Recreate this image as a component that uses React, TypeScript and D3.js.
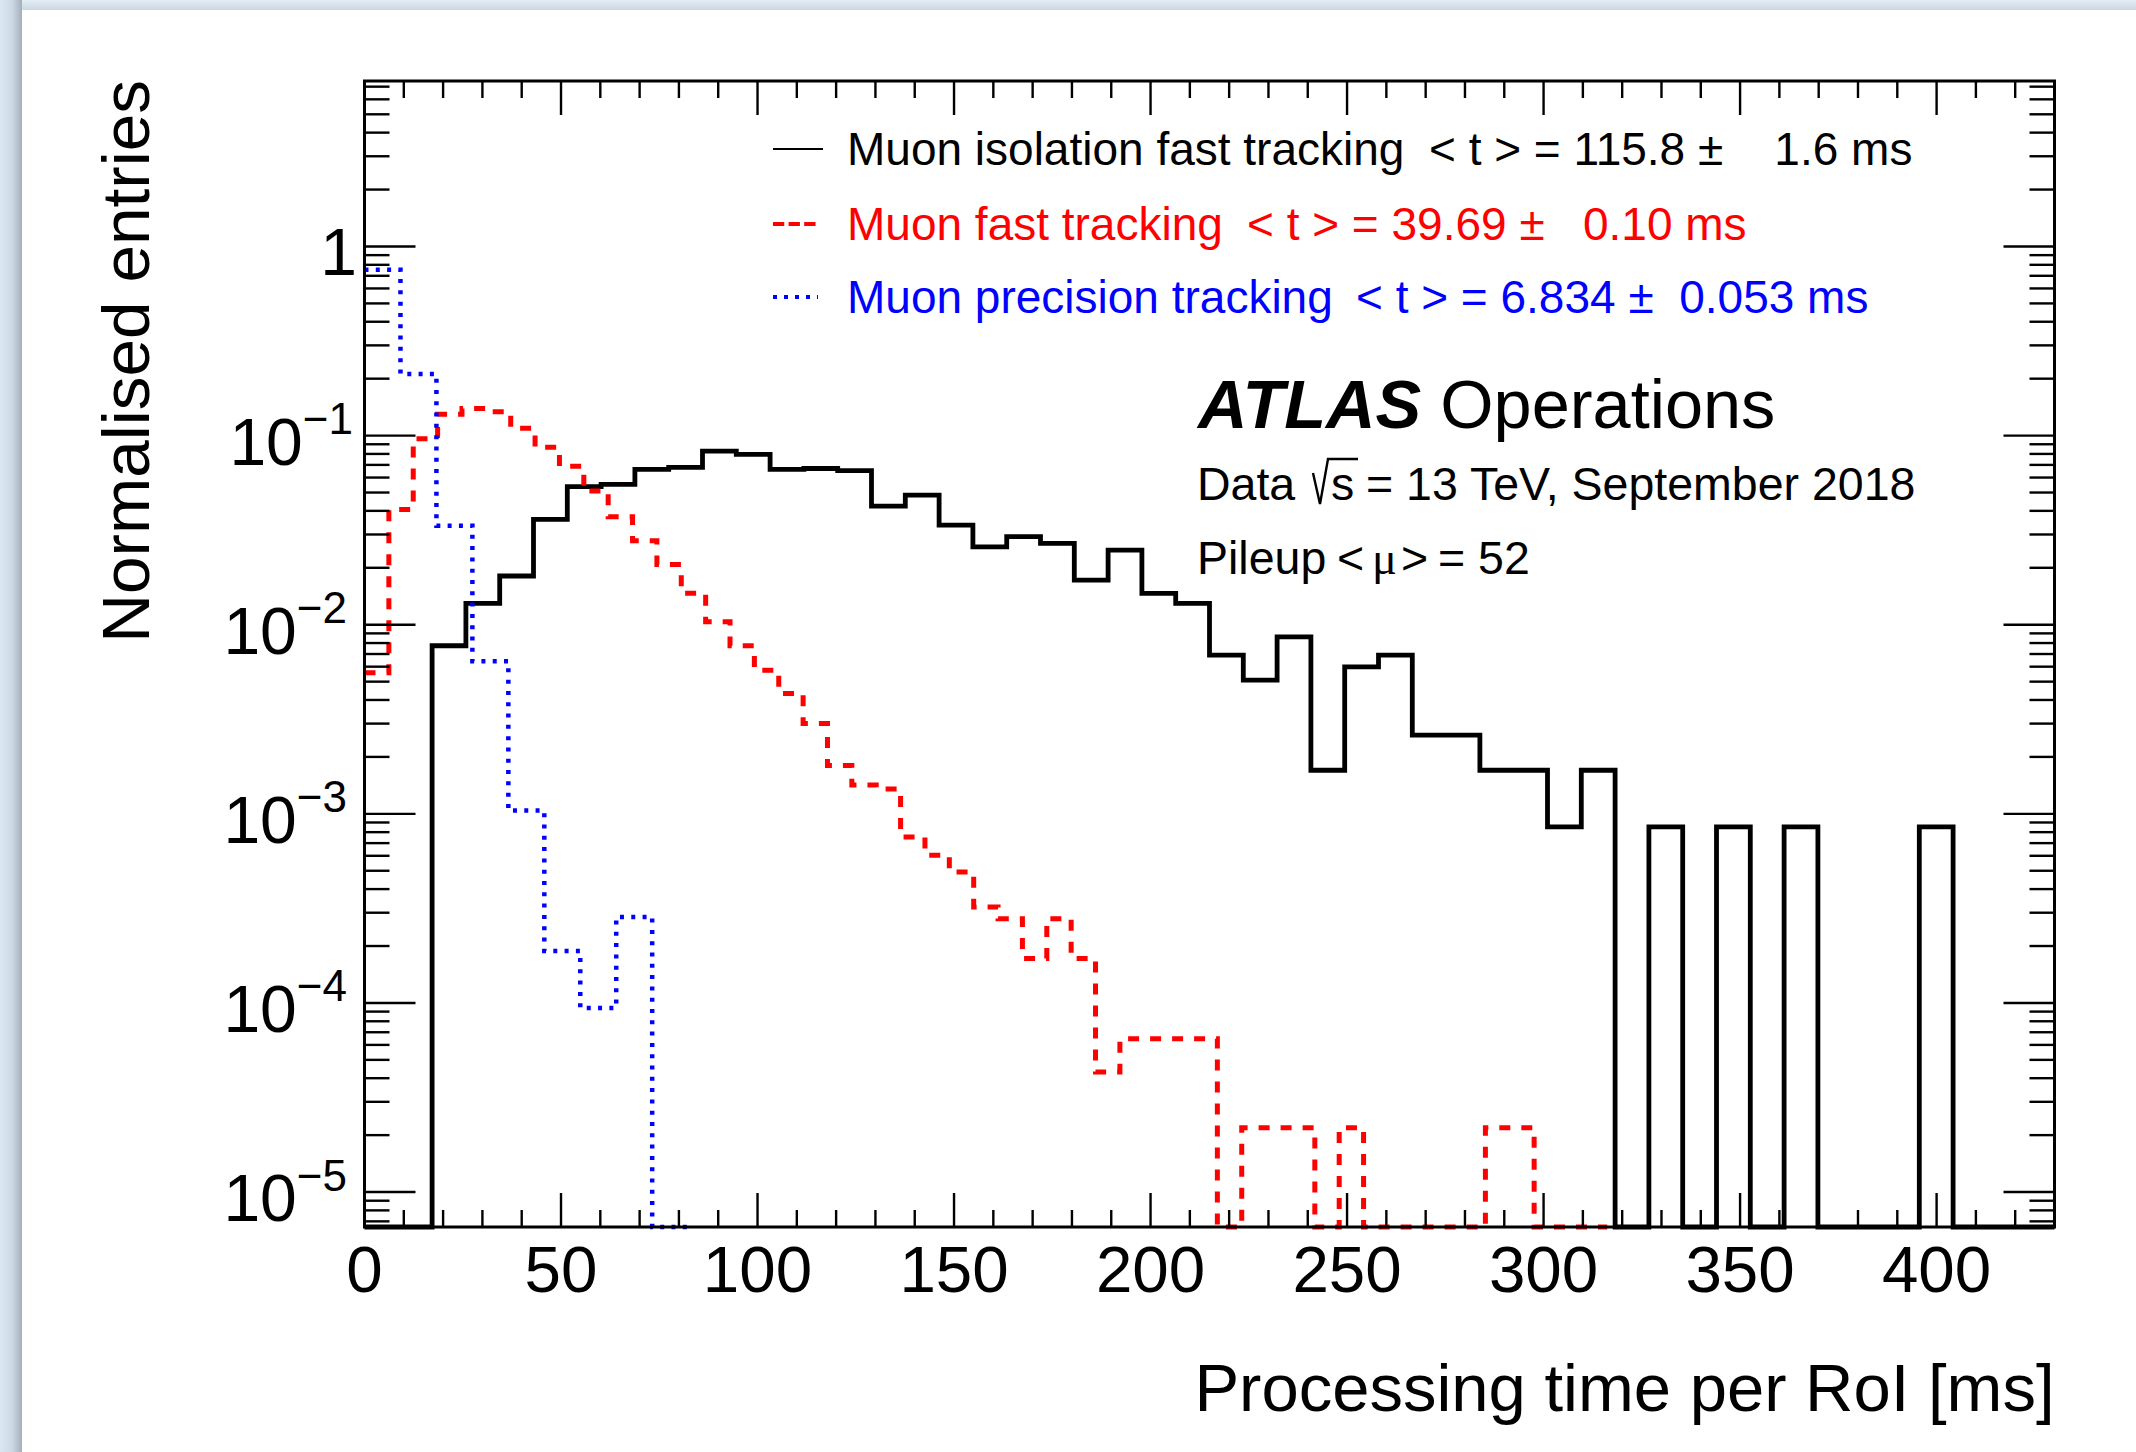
import React from "react";
import * as d3 from "d3";

// ---------------- data ----------------
// Muon isolation fast tracking: 50 bins of 8.6 ms over [0, 430]
const isoBinWidth = 8.6;
const isoValues = [
  0, 0, 7.74e-3, 1.297e-2, 1.81e-2, 3.61e-2, 5.37e-2, 5.52e-2, 6.63e-2, 6.79e-2,
  8.28e-2, 7.96e-2, 6.63e-2, 6.7e-2, 6.53e-2, 4.24e-2, 4.85e-2, 3.36e-2, 2.58e-2, 2.92e-2,
  2.69e-2, 1.72e-2, 2.48e-2, 1.465e-2, 1.297e-2, 6.9e-3, 5.09e-3, 8.63e-3, 1.7e-3, 5.99e-3,
  6.9e-3, 2.61e-3, 2.61e-3, 1.7e-3, 1.7e-3, 8.53e-4, 1.7e-3, 0, 8.53e-4, 0,
  8.53e-4, 0, 8.53e-4, 0, 0, 0, 8.53e-4, 0, 0, 0,
];
// Muon fast tracking: 51 bins of 6.2 ms
const fastBinWidth = 6.2;
const fastValues = [
  5.57e-3, 0.0407, 0.0962, 0.1295, 0.1393, 0.1337, 0.1092, 0.0867, 0.0688, 0.0509,
  0.0372, 0.0278, 0.0208, 0.01465, 0.01036, 7.74e-3, 5.75e-3, 4.33e-3, 3.0e-3, 1.8e-3,
  1.42e-3, 1.355e-3, 7.55e-4, 6.04e-4, 4.93e-4, 3.22e-4, 2.79e-4, 1.72e-4, 2.79e-4, 1.72e-4,
  4.32e-5, 6.46e-5, 6.46e-5, 6.46e-5, 6.46e-5, 0, 2.19e-5, 2.19e-5, 2.19e-5, 0,
  2.19e-5, 0, 0, 0, 0, 0, 2.19e-5, 2.19e-5, 0, 0, 0,
];
// Muon precision tracking: 9 bins of 9.15 ms
const precBinWidth = 9.15;
const precValues = [0.753, 0.212, 0.0334, 6.4e-3, 1.04e-3, 1.88e-4, 9.4e-5, 2.85e-4, 0];

const xTickLabels = [0, 50, 100, 150, 200, 250, 300, 350, 400];
const yDecadeExponents = [-5, -4, -3, -2, -1, 0];
const xDomain = [0, 430];
const yDomain = [6.535e-6, 7.5];

const legendLabels = ["Muon isolation fast tracking", "Muon fast tracking", "Muon precision tracking"];
const legendStats = ["< t > = 115.8 \u00b1    1.6 ms", "< t > = 39.69 \u00b1   0.10 ms", "< t > = 6.834 \u00b1  0.053 ms"];

// ---------------- layout ----------------
const W = 2136;
const H = 1452;
const FONT = "'Liberation Sans', Arial, Helvetica, sans-serif";
const FRAME = { left: 364.5, right: 2054.5, top: 81, bottom: 1227 };

export default function App() {
  const x = d3.scaleLinear().domain(xDomain).range([FRAME.left, FRAME.right]);
  const y = d3.scaleLog().domain(yDomain).range([FRAME.bottom, FRAME.top]);

  const histPath = (values: number[], bw: number) => {
    const pts: [number, number][] = [];
    values.forEach((v, i) => {
      const yy = v > 0 ? y(v) : FRAME.bottom;
      pts.push([x(i * bw), yy], [x((i + 1) * bw), yy]);
    });
    return d3.line()(pts) || "";
  };

  const xMinor = d3.range(0, 431, 10);
  const yMinor: number[] = [];
  for (let e = -6; e <= 0; e++) {
    for (let m = 1; m <= 9; m++) {
      const v = m * Math.pow(10, e);
      if (v >= yDomain[0] && v <= yDomain[1]) yMinor.push(v);
    }
  }

  const tickW = 2.4;
  const xMaj = 34, xMin = 17, yMaj = 51, yMin = 25;

  const legendSym = [
    { color: "#000", width: 2, dash: undefined as string | undefined },
    { color: "#ff0000", width: 3.8, dash: "11.3 4.3" },
    { color: "#0000ff", width: 3.8, dash: "4 7" },
  ];
  const legendColors = ["#000", "#ff0000", "#0000ff"];
  const legendBase = [165, 240, 313];
  const statX = [1429, 1247, 1356];
  const LFS = 46;

  return (
    <svg
      width={W}
      height={H}
      viewBox={`0 0 ${W} ${H}`}
      style={{ position: "absolute", left: 0, top: 0, display: "block" }}
      fontFamily={FONT}
    >
      <defs>
        <linearGradient id="lshadow" x1="0" y1="0" x2="1" y2="0">
          <stop offset="0" stopColor="#dbe7f1" />
          <stop offset="0.55" stopColor="#cdd9e4" />
          <stop offset="1" stopColor="#a3afbb" />
        </linearGradient>
        <linearGradient id="tshadow" x1="0" y1="0" x2="0" y2="1">
          <stop offset="0" stopColor="#e3edf5" />
          <stop offset="1" stopColor="#cbd7e2" />
        </linearGradient>
      </defs>
      <rect x={0} y={0} width={W} height={H} fill="#dde8f1" />
      <rect x={0} y={0} width={W} height={10} fill="url(#tshadow)" />
      <rect x={0} y={0} width={22} height={H} fill="url(#lshadow)" />
      <rect x={22} y={10} width={W - 22} height={H - 10} fill="#ffffff" />

      {/* histograms */}
      <path d={histPath(isoValues, isoBinWidth)} fill="none" stroke="#000" strokeWidth={4.8} />
      <path d={histPath(fastValues, fastBinWidth)} fill="none" stroke="#ff0000" strokeWidth={5} strokeDasharray="11 11" />
      <path d={histPath(precValues, precBinWidth)} fill="none" stroke="#0000ff" strokeWidth={4.5} strokeDasharray="4 7.3" />

      {/* frame */}
      <rect
        x={FRAME.left}
        y={FRAME.top}
        width={FRAME.right - FRAME.left}
        height={FRAME.bottom - FRAME.top}
        fill="none"
        stroke="#000"
        strokeWidth={3}
      />

      {/* x ticks bottom & top */}
      {xMinor.map((t) => {
        const len = t % 50 === 0 ? xMaj : xMin;
        const xx = x(t);
        return (
          <g key={"xt" + t}>
            <line x1={xx} x2={xx} y1={FRAME.bottom} y2={FRAME.bottom - len} stroke="#000" strokeWidth={tickW} />
            <line x1={xx} x2={xx} y1={FRAME.top} y2={FRAME.top + len} stroke="#000" strokeWidth={tickW} />
          </g>
        );
      })}
      {/* y ticks left & right */}
      {yMinor.map((v, i) => {
        const isMajor = Math.abs(Math.log10(v) - Math.round(Math.log10(v))) < 1e-9;
        const len = isMajor ? yMaj : yMin;
        const yy = y(v);
        return (
          <g key={"yt" + i}>
            <line x1={FRAME.left} x2={FRAME.left + len} y1={yy} y2={yy} stroke="#000" strokeWidth={tickW} />
            <line x1={FRAME.right} x2={FRAME.right - len} y1={yy} y2={yy} stroke="#000" strokeWidth={tickW} />
          </g>
        );
      })}

      {/* x tick labels */}
      {xTickLabels.map((t) => (
        <text key={"xl" + t} x={x(t)} y={1292} textAnchor="middle" fontSize={65.5} fill="#000">
          {t}
        </text>
      ))}
      {/* y tick labels */}
      {yDecadeExponents.map((k) => {
        const yy = y(Math.pow(10, k));
        if (k === 0) {
          return (
            <text key="yl0" x={357} y={yy + 28.5} textAnchor="end" fontSize={66} fill="#000">
              1
            </text>
          );
        }
        const sup = String(-k);
        const ax = sup === "1" ? 353 : 347;
        return (
          <text key={"yl" + k} x={ax} y={yy + 29} textAnchor="end" fontSize={66} fill="#000">
            10
            <tspan fontSize={44} dy={-30.5}>{"\u2212" + sup}</tspan>
          </text>
        );
      })}

      {/* axis titles */}
      <text x={FRAME.right} y={1411} textAnchor="end" fontSize={67} fill="#000">
        Processing time per RoI [ms]
      </text>
      <text transform={`translate(149, ${FRAME.top - 1}) rotate(-90)`} textAnchor="end" fontSize={67.5} fill="#000">
        Normalised entries
      </text>

      {/* legend */}
      {legendLabels.map((lab, i) => (
        <g key={"lg" + i}>
          <line
            x1={773}
            x2={i === 0 ? 823 : 818}
            y1={legendBase[i] - 16}
            y2={legendBase[i] - 16}
            stroke={legendSym[i].color}
            strokeWidth={legendSym[i].width}
            strokeDasharray={legendSym[i].dash}
          />
          <text x={847} y={legendBase[i]} fontSize={LFS} fill={legendColors[i]}>
            {lab}
          </text>
          <text x={statX[i]} y={legendBase[i]} fontSize={LFS} fill={legendColors[i]} xmlSpace="preserve" style={{ whiteSpace: "pre" }}>
            {legendStats[i]}
          </text>
        </g>
      ))}

      {/* ATLAS label */}
      <text x={1198} y={428} fontSize={68.5} fill="#000">
        <tspan fontWeight="bold" fontStyle="italic">ATLAS</tspan>
        <tspan> Operations</tspan>
      </text>
      <text x={1197} y={500} fontSize={46.5} fill="#000">Data</text>
      <path d="M1313,473 L1320,504 L1328,459 L1358,459" fill="none" stroke="#000" strokeWidth={2.4} />
      <text x={1331} y={500} fontSize={46.5} fill="#000">s</text>
      <text x={1366} y={500} fontSize={46.5} fill="#000">= 13 TeV, September 2018</text>
      <text x={1197} y={574} fontSize={46.5} fill="#000">
        Pileup
        <tspan x={1337}>{"<"}</tspan>
        <tspan x={1372} fontFamily="'Liberation Serif', 'DejaVu Serif', serif">{"\u03bc"}</tspan>
        <tspan x={1401}>{">"}</tspan>
        <tspan x={1438}>= 52</tspan>
      </text>
    </svg>
  );
}
